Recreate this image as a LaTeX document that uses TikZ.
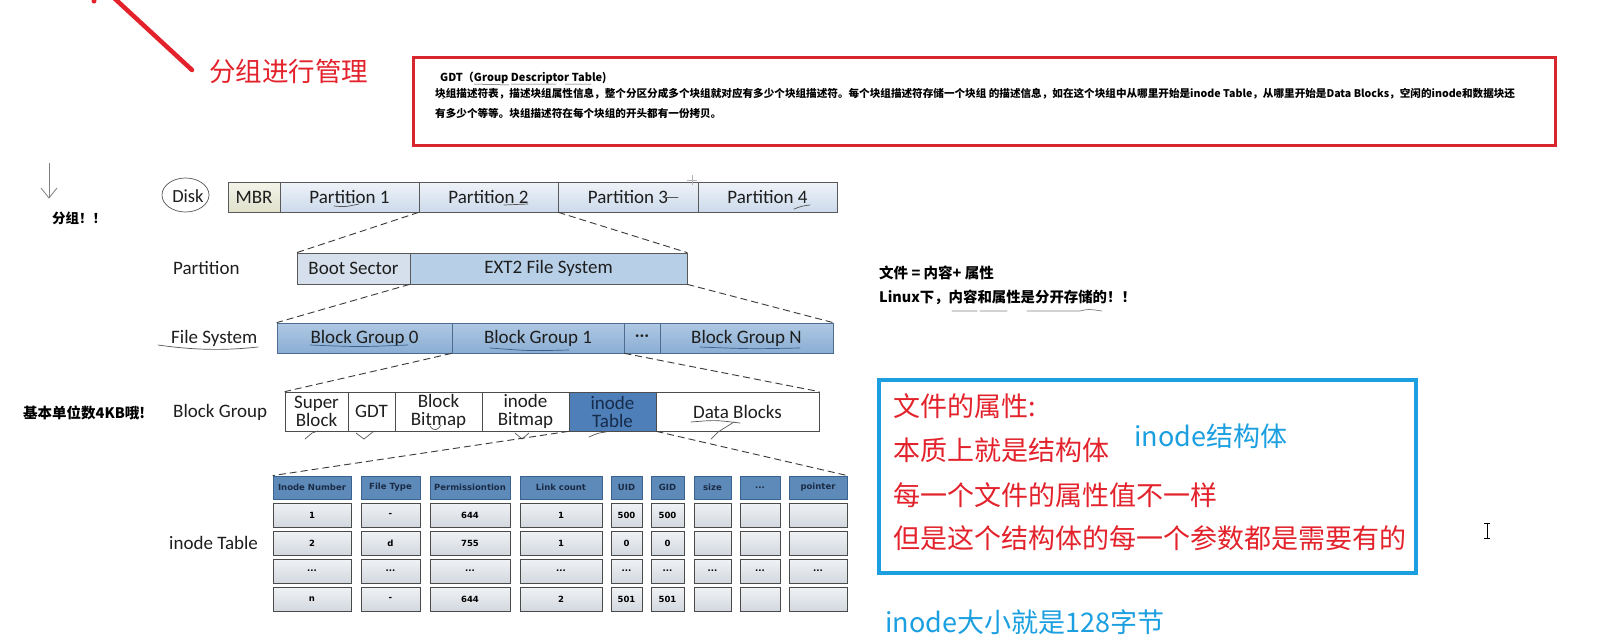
\documentclass[tikz,border=0pt]{standalone}
\usepackage{fontspec}
\setmainfont{Carlito}
\newfontfamily\cjk{Noto Sans CJK SC}
\newfontfamily\dvs{DejaVu Sans}
\def\tdots{...}
\definecolor{redA}{HTML}{E3222B}
\definecolor{boxred}{HTML}{D8262F}
\definecolor{blueA}{HTML}{1B9FE0}
\definecolor{txt}{HTML}{1E1E1E}
\definecolor{pTop}{HTML}{EEF3F9}
\definecolor{pBot}{HTML}{CCDAEA}
\definecolor{mTop}{HTML}{F4F4EA}
\definecolor{mBot}{HTML}{E0E0CC}
\definecolor{bootC}{HTML}{D5E0EC}
\definecolor{extC}{HTML}{B7D0E8}
\definecolor{fsTop}{HTML}{AFC8E3}
\definecolor{fsBot}{HTML}{8AAED3}
\definecolor{fsB}{HTML}{4C6D8F}
\definecolor{itC}{HTML}{4F7FB8}
\definecolor{itT}{HTML}{152B4A}
\definecolor{hdC}{HTML}{5D8AB8}
\definecolor{hdB}{HTML}{3A628E}
\definecolor{hdT}{HTML}{1B2B45}
\definecolor{rTop}{HTML}{F0F2F5}
\definecolor{rBot}{HTML}{D3D8DF}
\definecolor{rB}{HTML}{4A4A4A}
\definecolor{hand}{HTML}{555555}
\begin{document}
\begin{tikzpicture}[x=1pt,y=-1pt,
  lbl/.style={anchor=west, inner sep=0pt, text=txt, font=\fontsize{19}{19}\selectfont},
  pbox/.style={draw=gray!70!black, line width=0.7pt, top color=pTop, bottom color=pBot, minimum height=30pt, inner sep=0pt, text=txt, font=\fontsize{19}{19}\selectfont},
  mbox/.style={pbox, top color=mTop, bottom color=mBot},
  ebox/.style={draw=gray!70!black, line width=0.7pt, minimum height=31pt, inner sep=0pt, text=txt, font=\fontsize{19}{19}\selectfont},
  fsbox/.style={draw=fsB, line width=0.7pt, top color=fsTop, bottom color=fsBot, minimum height=30pt, inner sep=0pt, text=txt, font=\fontsize{19}{19}\selectfont},
  bgbox/.style={draw=gray!60!black, line width=0.7pt, fill=white, minimum height=39pt, inner sep=0pt, align=center, text=txt, font=\fontsize{19}{18}\selectfont},
  zoomline/.style={draw=gray!45!black, line width=0.9pt, dash pattern=on 7pt off 4pt},
  handline/.style={draw=hand, line width=0.7pt, line cap=round},
  hd/.style={draw=hdB, line width=0.8pt, fill=hdC, minimum height=23pt, inner sep=0pt, text=hdT, font=\dvs\bfseries\fontsize{8.5}{9}\selectfont},
  rw/.style={draw=rB, line width=1pt, top color=rTop, bottom color=rBot, minimum height=24pt, inner sep=0pt, text=black, font=\dvs\bfseries\fontsize{8.5}{9}\selectfont},
  cjkt/.style={anchor=west, inner sep=0pt, font=\cjk\fontsize{#1}{#1}\selectfont},
]
\useasboundingbox[fill=white] (0,0) rectangle (1599,640);

% top-left annotations
\coordinate (rl1) at (113,-3);
\coordinate (rl2) at (192,70);
\draw[redA, line width=4.5pt, line cap=round] (rl1) -- (rl2);
\fill[redA] (94,1) circle (2.5);
\node[cjkt=26.5, text=redA] (mgmt) at (209,71) {分组进行管理};

\coordinate (ga1) at (49,163);
\coordinate (ga2) at (49,198);
\draw[gray, line width=0.8pt] (ga1) -- (ga2);
\draw[gray, line width=0.8pt] (41,188) -- (ga2) -- (57,188);
\node[cjkt=13.5, text=black] (fz) at (52,218) {\bfseries 分组！！};
\node[cjkt=14.5, text=black] (unit) at (23,413) {\bfseries 基本单位数4KB哦!};

% GDT box
\draw[boxred, line width=3pt] (413,57) rectangle (1555,145);
\node[cjkt=11, text=black] (gdtt) at (440,78) {\bfseries GDT（Group Descriptor Table)};
\node[cjkt=10.6, text=black] (gdt2) at (435,94) {\bfseries 块组描述符表，描述块组属性信息，整个分区分成多个块组就对应有多少个块组描述符。每个块组描述符存储一个块组 的描述信息，如在这个块组中从哪里开始是inode Table，从哪里开始是Data Blocks，空闲的inode和数据块还};
\node[cjkt=10.6, text=black] (gdt3) at (435,113) {\bfseries 有多少个等等。块组描述符在每个块组的开头都有一份拷贝。};
\draw[handline, line width=0.5pt] (474,84) -- (509,85) (511,84) -- (556,84) (565,84) -- (591,84);
\draw[handline, line width=0.5pt] (442,99) -- (446,97) -- (451,91);

% Disk row
\node[inner sep=0pt, text=txt, font=\fontsize{18.5}{19}\selectfont] (disk) at (188,196) {Disk};
\draw[handline] (185.5,195) ellipse [x radius=23.5, y radius=17];
\node[mbox, minimum width=52pt] (mbr) at (254,197) {MBR};
\node[pbox, minimum width=139pt] (p1) at (349.5,197) {Partition 1};
\node[pbox, minimum width=139pt] (p2) at (488.5,197) {Partition 2};
\node[pbox, minimum width=140pt] (p3) at (628,197) {Partition 3};
\node[pbox, minimum width=139pt] (p4) at (767.5,197) {Partition 4};
\draw[handline] (334,206) .. controls (345,207) .. (359,204);
\draw[handline] (504,205) -- (528,204);
\draw[handline] (664,197) -- (678,197);
\draw[handline] (794,209) .. controls (802,206) .. (810,205);
\draw[gray!60, line width=0.6pt] (687,180) -- (697,180) (692,175) -- (692,185);

% Partition row
\node[lbl] (lpart) at (173,268) {Partition};
\node[ebox, fill=bootC, minimum width=113pt] (boot) at (353.5,268.5) {Boot Sector};
\node[ebox, fill=extC, minimum width=277pt] (ext) at (548.5,268.5) {EXT2 File System};
\draw[zoomline] (p2.south west) -- (boot.north west);
\draw[zoomline] (p2.south east) -- (ext.north east);

% File system row
\node[lbl] (lfs) at (171,338) {File System};
\draw[handline] (158,345) .. controls (200,351) and (230,350) .. (258,347);
\node[fsbox, minimum width=175pt] (bg0) at (364.5,338) {Block Group 0};
\node[fsbox, minimum width=172pt] (bg1) at (538,338) {Block Group 1};
\node[fsbox, minimum width=36pt] (bgd) at (642,338) {···};
\node[fsbox, minimum width=173pt] (bgn) at (746.5,338) {Block Group N};
\draw[zoomline] (ext.south west) -- (bg0.north west);
\draw[zoomline] (ext.south east) -- (bgn.north east);
\draw[handline, draw=hdB] (310,345) .. controls (360,347) .. (408,345);
\draw[handline, draw=hdB] (490,348) .. controls (530,351) .. (569,350);
\draw[handline, draw=hdB] (700,347) .. controls (750,349) .. (800,348);

% Block group row
\node[lbl] (lbg) at (173,412) {Block Group};
\node[bgbox, minimum width=63pt] (sb) at (316.5,411.5) {Super\\Block};
\node[bgbox, minimum width=47pt] (gdt) at (371.5,411.5) {GDT};
\node[bgbox, minimum width=87pt] (bb) at (438.5,411.5) {Block\\Bitmap};
\node[bgbox, minimum width=87pt] (ib) at (525.5,411.5) {inode\\Bitmap};
\node[bgbox, fill=itC, text=itT, minimum width=87pt] (it) at (612.5,411.5) {inode\\Table};
\node[bgbox, minimum width=163pt] (db) at (737.5,411.5) {Data Blocks};
\draw[zoomline] (bg1.south west) -- (sb.north west);
\draw[zoomline] (bg1.south east) -- (db.north east);
\draw[handline] (305,439) -- (312,433) -- (318,431);
\draw[handline] (356,433) -- (364,439) -- (374,431);
\draw[handline] (430,426) .. controls (434,432) and (438,430) .. (441,425);
\draw[handline] (515,433) -- (522,439) -- (529,433);
\draw[handline] (589,437) .. controls (598,433) .. (606,432);
\draw[handline] (691,422) .. controls (715,420) .. (740,423);
\draw[handline] (711,439) -- (718,432) -- (734,422);

% inode table
\node[lbl] (lit) at (169,543) {inode Table};
\foreach \i/\cx/\w/\th/\ta/\tb/\tc/\td in {
  1/312/78/Inode Number/1/2/\tdots/n,
  2/390.5/59/File Type/-/d/\tdots/-,
  3/470/80/Permissiontion/644/755/\tdots/644,
  4/561/82/Link count/1/1/\tdots/2,
  5/626.5/31/UID/500/0/\tdots/501,
  6/667.5/33/GID/500/0/\tdots/501,
  7/712.5/37/size/{}/{}/\tdots/{},
  8/760/40/\tdots/{}/{}/\tdots/{},
  9/818/58/pointer/{}/{}/\tdots/{}} {
  \node[hd, minimum width=\w pt] (h\i) at (\cx,487.5) {\th};
  \node[rw, minimum width=\w pt] (a\i) at (\cx,515) {\ta};
  \node[rw, minimum width=\w pt] (b\i) at (\cx,543) {\tb};
  \node[rw, minimum width=\w pt] (c\i) at (\cx,571) {\tc};
  \node[rw, minimum width=\w pt] (d\i) at (\cx,599) {\td};
}
\draw[zoomline] (it.south west) -- (h1.north west);
\draw[zoomline] (it.south east) -- (h9.north east);

% right side
\node[cjkt=14.5, text=black] (eq) at (879,273) {\bfseries 文件 = 内容+ 属性};
\node[cjkt=14.4, text=black] (linux) at (879,297) {\bfseries Linux下，内容和属性是分开存储的！！};
\draw[handline, draw=gray] (952,311) -- (977,311) (980,311) -- (1007,311) (1027,311) -- (1080,311) .. controls (1088,309) .. (1102,311);
\draw[blueA, line width=4pt] (879,380) rectangle (1416,573);
\node[cjkt=27, text=redA] (t1) at (893,406) {文件的属性:};
\node[cjkt=27, text=redA] (t2) at (893,450) {本质上就是结构体};
\node[cjkt=27, text=redA] (t3) at (893,495) {每一个文件的属性值不一样};
\node[cjkt=27, text=redA] (t4) at (893,538) {但是这个结构体的每一个参数都是需要有的};
\node[cjkt=27, text=blueA] (t5) at (1134,436) {inode结构体};
\node[cjkt=27, text=blueA] (t6) at (885,622) {inode大小就是128字节};

% text cursor
\draw[black, line width=0.6pt] (1487,523) -- (1487,538) (1484,523) -- (1490,523) (1484,538) -- (1490,538);
\end{tikzpicture}
\end{document}
